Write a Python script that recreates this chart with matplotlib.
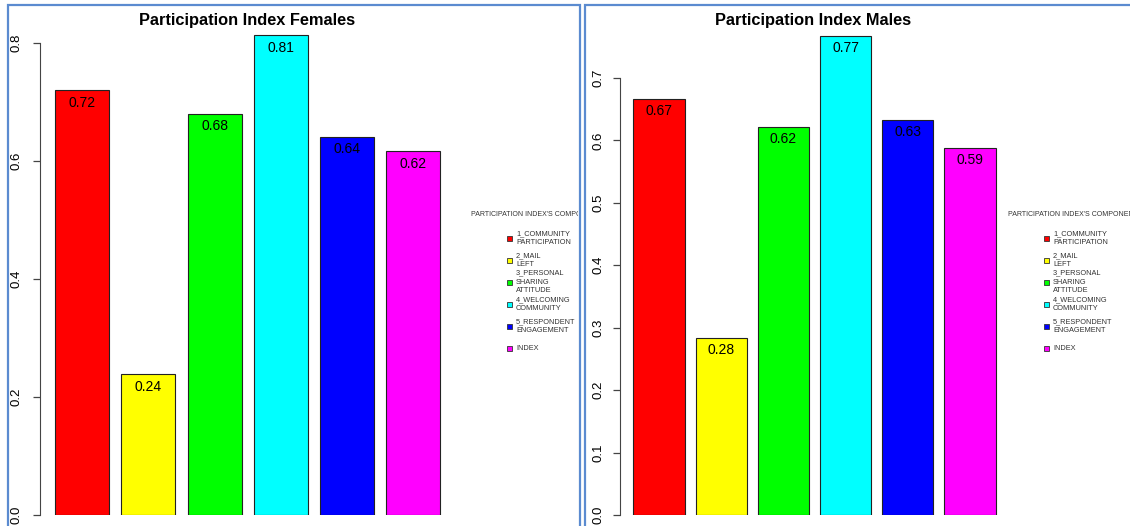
import matplotlib
matplotlib.use('Agg')
import matplotlib.pyplot as plt
from matplotlib.patches import Rectangle
from matplotlib.transforms import Bbox, TransformedBbox

plt.rcParams['font.family'] = ['Liberation Sans', 'DejaVu Sans']

# data
components = ['1_COMMUNITY\nPARTICIPATION', '2_MAIL\nLEFT', '3_PERSONAL\nSHARING\nATTITUDE',
              '4_WELCOMING\nCOMMUNITY', '5_RESPONDENT\nENGAGEMENT', 'INDEX']
colors = ['#ff0000', '#ffff00', '#00ff00', '#00ffff', '#0000ff', '#ff00ff']
females = [0.72, 0.239, 0.68, 0.813, 0.641, 0.617]
males = [0.667, 0.284, 0.622, 0.768, 0.633, 0.588]
female_ticks = [0.0, 0.2, 0.4, 0.6, 0.8]
male_ticks = [0.0, 0.1, 0.2, 0.3, 0.4, 0.5, 0.6, 0.7]
legend_title = "PARTICIPATION INDEX'S COMPONENTS"

W, H = 1130, 526
fig = plt.figure(figsize=(W / 100, H / 100), dpi=100)


def fx(px):
  return px / W


def fy(py):
  return 1 - py / H


def draw_panel(values, ticks, title, panel, axis_x, right_x, top_val, x0, step, width,
               leg_x, pad, title_x):
  '''panel = (left, right) pixel edges of the blue frame'''
  fig.add_artist(Rectangle((fx(panel[0]), fy(560)), fx(panel[1]) - fx(panel[0]), fy(5) - fy(560),
                           transform=fig.transFigure, fill=False, edgecolor='#5b8bd0', lw=1.6))
  ax = fig.add_axes([fx(axis_x), fy(515), fx(right_x) - fx(axis_x), fy(30) - fy(515)])
  pos = list(range(len(values)))
  bars = ax.bar(pos, values, width=width, color=colors, edgecolor='#222222', linewidth=0.8)
  for b, v in zip(bars, values):
    ax.annotate(f'{v:.2f}', (b.get_x() + b.get_width() / 2, v), xytext=(0, -4),
                textcoords='offset points', ha='center', va='top', fontsize=10)
  ax.set_ylim(0, top_val)
  ax.set_xlim(x0, x0 + (right_x - axis_x) / step)
  ax.set_yticks(ticks)
  ax.set_yticklabels([f'{t:.1f}' for t in ticks], rotation=90, va='center', fontsize=9.5)
  ax.tick_params(axis='y', length=5, width=0.9, color='#444444', pad=pad)
  ax.set_xticks([])
  for s in ['top', 'right', 'bottom']:
    ax.spines[s].set_visible(False)
  ax.spines['left'].set_bounds(ticks[0], ticks[-1])
  ax.spines['left'].set_color('#444444')
  ax.patch.set_alpha(0)

  fig.text(fx(title_x), fy(20), title, ha='center', va='center',
           fontsize=11.8, fontweight='bold')

  # R style legend: fixed item step, labels may overflow
  clip = TransformedBbox(Bbox.from_extents(fx(panel[0]), 0, fx(panel[1] - 2), 1), fig.transFigure)
  t = fig.text(fx(leg_x), fy(214), legend_title, ha='left', va='center', fontsize=5.0,
               color='#333333')
  t.set_clip_box(clip)
  t.set_clip_on(True)
  for i, (lab, c) in enumerate(zip(components, colors)):
    yc = 238 + 22 * i
    fig.add_artist(Rectangle((fx(leg_x + 36), fy(yc + 2.5)), fx(5), fy(0) - fy(5),
                             transform=fig.transFigure, facecolor=c, edgecolor='#333333', lw=0.6))
    fig.text(fx(leg_x + 45), fy(yc), lab, ha='left', va='center', fontsize=5.3,
             color='#333333', linespacing=1.4)
  return ax


draw_panel(females, female_ticks, 'Participation Index Females', (8, 580), 40, 460,
           (515 - 30) / 590, -0.633, 66.3, 0.815, 471, 7.5, 247)
draw_panel(males, male_ticks, 'Participation Index Males', (585, 1160), 620, 1000,
           (515 - 30) / 624.3, -0.627, 62.2, 0.82, 1008, 6, 813)

fig.savefig('out.png', dpi=100)
